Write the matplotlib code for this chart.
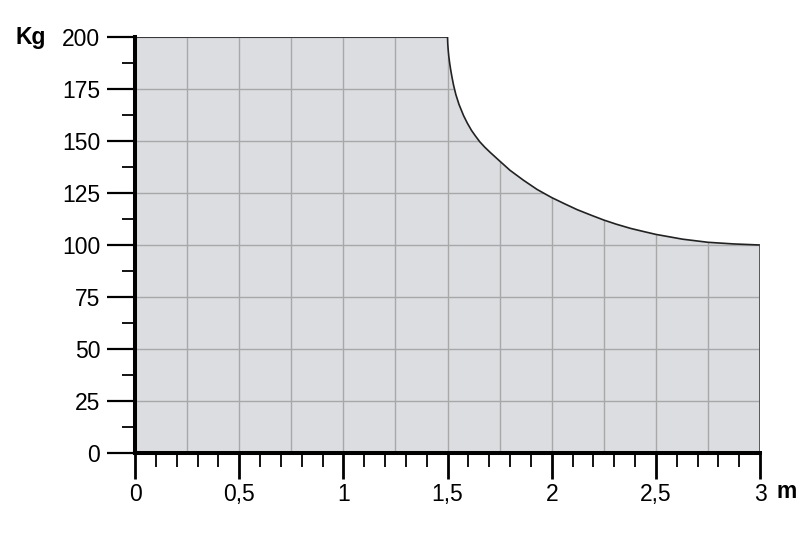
import numpy as np
import matplotlib.pyplot as plt
from matplotlib.patches import Polygon
from matplotlib.ticker import MultipleLocator

plt.rcParams['font.family'] = ['Liberation Sans', 'DejaVu Sans']

# carga admisible (Kg) segun la longitud (m)
dist_m = [0.0, 1.5, 1.501, 1.503, 1.506, 1.51, 1.515, 1.521, 1.529, 1.54,
          1.555, 1.577, 1.595, 1.615, 1.634, 1.655, 1.68, 1.705, 1.75, 1.80,
          1.865, 1.93, 2.0, 2.06, 2.122, 2.19, 2.25, 2.31, 2.378, 2.44,
          2.5, 2.628, 2.75, 2.875, 3.0]
carga_kg = [200, 200, 197, 194, 190.8, 187.6, 184.3, 180.9, 176.8, 172.3,
            167.6, 162.2, 158.6, 155.1, 152.4, 149.6, 146.9, 144.5, 140.4, 135.9,
            131.1, 126.7, 122.8, 119.9, 117.0, 114.3, 112.0, 110.0, 108.0, 106.5,
            105.1, 102.8, 101.3, 100.5, 100]

x_ticks = [0, 0.5, 1, 1.5, 2, 2.5, 3]
x_labels = ['0', '0,5', '1', '1,5', '2', '2,5', '3']
y_ticks = [0, 25, 50, 75, 100, 125, 150, 175, 200]

fig = plt.figure(figsize=(8.12, 5.4), dpi=100)
ax = fig.add_axes([0.1663, 0.1611, 0.7697, 0.7704])

# zona gris
verts = [(dist_m[0], 0)] + list(zip(dist_m, carga_kg)) + [(dist_m[-1], 0)]
zona = Polygon(verts, closed=True, facecolor='#dcdde0', edgecolor='none', zorder=1)
ax.add_patch(zona)

# rejilla solo dentro de la zona
for xv in np.arange(0.25, 3.01, 0.25):
    ln, = ax.plot([xv, xv], [0, 200], color='#a8a8a8', lw=1.0, zorder=2)
    ln.set_clip_path(zona)
for yv in y_ticks[1:]:
    ln, = ax.plot([0, 3], [yv, yv], color='#a8a8a8', lw=1.0, zorder=2)
    ln.set_clip_path(zona)

ax.plot(dist_m, carga_kg, color='#222222', lw=1.2, zorder=3)
ax.plot([dist_m[-1], dist_m[-1]], [0, carga_kg[-1]], color='#444444', lw=1.2, zorder=3)

ax.set_xlim(0, 3)
ax.set_ylim(0, 200)

for s in ['top', 'right']:
    ax.spines[s].set_visible(False)
for s in ['left', 'bottom']:
    ax.spines[s].set_linewidth(2.9)
    ax.spines[s].set_zorder(5)

ax.set_xticks(x_ticks)
ax.set_xticklabels(x_labels)
ax.xaxis.set_minor_locator(MultipleLocator(0.1))
ax.set_yticks(y_ticks)
ax.yaxis.set_minor_locator(MultipleLocator(12.5))

ax.tick_params(axis='x', which='major', direction='out', length=18.7, width=2.0,
               labelsize=16.5, pad=3)
ax.tick_params(axis='x', which='minor', direction='out', length=10, width=1.3)
ax.tick_params(axis='y', which='major', direction='out', length=20, width=1.6,
               labelsize=16.5, pad=5)
ax.tick_params(axis='y', which='minor', direction='out', length=9.4, width=1.3)

fig.text(0.0185, 0.931, 'Kg', fontsize=16.5, fontweight='bold', va='center', ha='left')
fig.text(0.9557, 0.0889, 'm', fontsize=16.5, fontweight='bold', va='center', ha='left')

fig.savefig('out.png', dpi=100)
